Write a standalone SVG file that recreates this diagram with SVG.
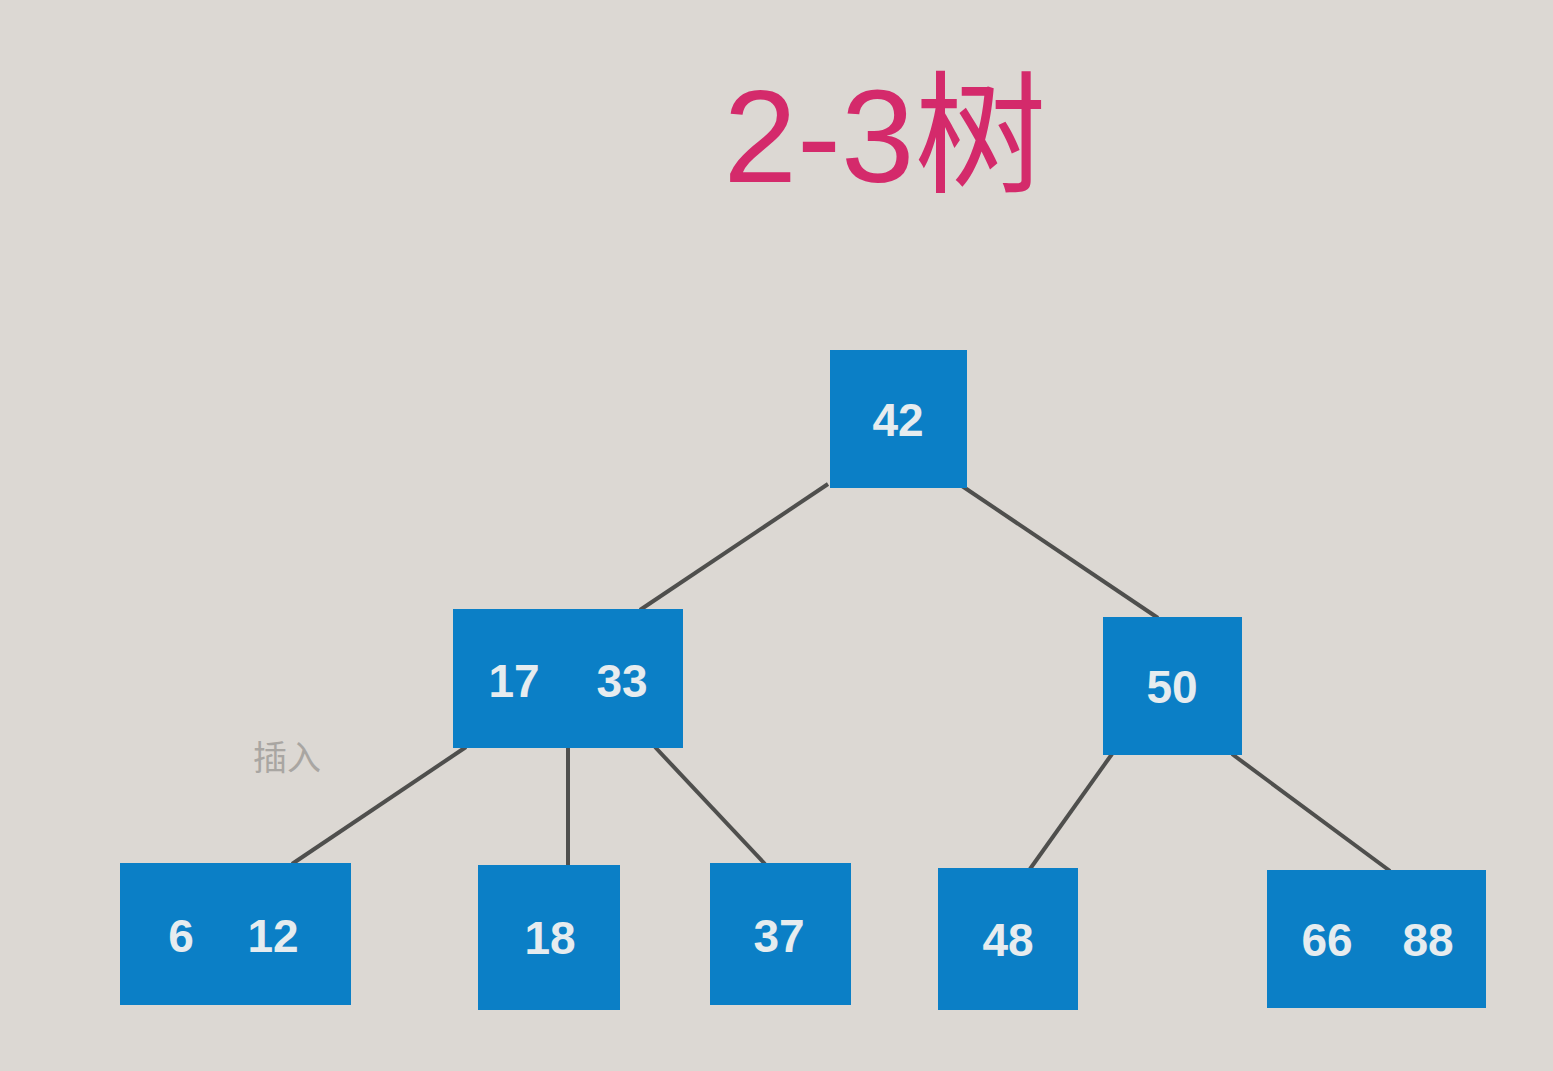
<svg xmlns="http://www.w3.org/2000/svg" width="1553" height="1071" viewBox="0 0 1553 1071">
<style>
.node rect{fill:#0b7fc6;}
.node text{fill:#e6ecef;font-family:"Liberation Sans",Arial,sans-serif;font-size:46px;font-weight:bold;text-anchor:middle;}
.edge{stroke:#4f4f4d;stroke-width:4;fill:none;}
</style>
<rect width="1553" height="1071" fill="#dcd8d3"/>
<text x="885" y="182" font-family="Liberation Sans,'Noto Sans CJK SC',sans-serif" font-size="132" fill="#d42a6b" text-anchor="middle">2-3树</text>
<text x="287" y="770" font-family="'Liberation Sans','Noto Sans CJK SC',sans-serif" font-size="34" fill="#a9a6a2" text-anchor="middle">插入</text>
<g id="connectors">
<line class="edge" x1="828" y1="484" x2="640" y2="610"/>
<line class="edge" x1="962" y1="486" x2="1158" y2="618"/>
<line class="edge" x1="466" y1="747" x2="292" y2="864"/>
<line class="edge" x1="568" y1="747" x2="568" y2="866"/>
<line class="edge" x1="655" y1="747" x2="765" y2="864"/>
<line class="edge" x1="1112" y1="754" x2="1030" y2="869"/>
<line class="edge" x1="1232" y1="754" x2="1390" y2="871"/>
</g>
<g id="n42" class="node"><rect x="830" y="350" width="137" height="138"/><text x="898" y="436">42</text></g>
<g id="n1733" class="node"><rect x="453" y="609" width="230" height="139"/><text x="514" y="697">17</text><text x="622" y="697">33</text></g>
<g id="n50" class="node"><rect x="1103" y="617" width="139" height="138"/><text x="1172" y="703">50</text></g>
<g id="n612" class="node"><rect x="120" y="863" width="231" height="142"/><text x="181" y="952">6</text><text x="273" y="952">12</text></g>
<g id="n18" class="node"><rect x="478" y="865" width="142" height="145"/><text x="550" y="954">18</text></g>
<g id="n37" class="node"><rect x="710" y="863" width="141" height="142"/><text x="779" y="952">37</text></g>
<g id="n48" class="node"><rect x="938" y="868" width="140" height="142"/><text x="1008" y="956">48</text></g>
<g id="n6688" class="node"><rect x="1267" y="870" width="219" height="138"/><text x="1327" y="956">66</text><text x="1428" y="956">88</text></g>
</svg>
